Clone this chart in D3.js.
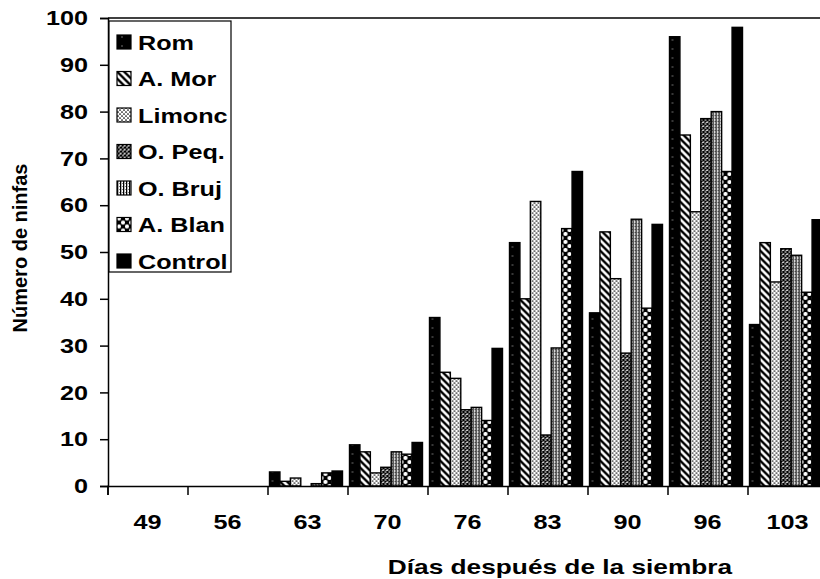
<!DOCTYPE html>
<html lang="es">
<head>
<meta charset="utf-8">
<title>Número de ninfas</title>
<script src="https://d3js.org/d3.v7.min.js"></script>
<style>
  body{margin:0;background:#fff;}
  svg text{font-family:"Liberation Sans",Arial,sans-serif;font-weight:bold;fill:#000;}
</style>
</head>
<body>
<div id="chart"></div>
<script>
// data
var dias = ["49","56","63","70","76","83","90","96","103"]
var series = ["Rom","A. Mor","Limonc","O. Peq.","O. Bruj","A. Blan","Control"]
var rom     = [0,0,3.0,8.8,36.0,52.0,37.0,96.0,34.5]
var aMor    = [0,0,1.0,7.3,24.3,40.0,54.3,75.0,52.0]
var limonc  = [0,0,1.7,2.8,23.0,60.8,44.3,58.6,43.6]
var oPeq    = [0,0,0.0,4.0,16.3,10.9,28.4,78.5,50.7]
var oBruj   = [0,0,0.5,7.3,16.8,29.5,57.0,80.0,49.3]
var aBlan   = [0,0,2.8,6.8,14.0,55.0,38.0,67.2,41.4]
var control = [0,0,3.2,9.3,29.4,67.2,55.9,98.0,56.9]
var yTicks = [0,10,20,30,40,50,60,70,80,90,100]

var values = [rom,aMor,limonc,oPeq,oBruj,aBlan,control]
var fills = ["url(#pRom)","url(#pMor)","url(#pLim)","url(#pPeq)","url(#pBru)","url(#pBla)","#000"]

var W = 820, H = 579
var stretch = 1.2   // the scanned text is wider than plain Arial

var svg = d3.select("#chart").append("svg")
    .attr("width",W).attr("height",H)

// fill patterns
var defs = svg.append("defs")
var p = defs.append("pattern").attr("id","pRom").attr("patternUnits","userSpaceOnUse").attr("width",10).attr("height",9)
p.append("rect").attr("width",10).attr("height",9).attr("fill","#000")
p.append("circle").attr("cx",5).attr("cy",4).attr("r",0.7).attr("fill","#999")

p = defs.append("pattern").attr("id","pMor").attr("patternUnits","userSpaceOnUse").attr("width",7).attr("height",7)
p.append("rect").attr("width",7).attr("height",7).attr("fill","#fff")
p.append("path").attr("d","M-1,-1L8,8M-4,3L1,8M3,-4L8,1").attr("stroke","#000").attr("stroke-width",2.4)

p = defs.append("pattern").attr("id","pLim").attr("patternUnits","userSpaceOnUse").attr("width",4).attr("height",4)
p.append("rect").attr("width",4).attr("height",4).attr("fill","#fff")
p.append("circle").attr("cx",1).attr("cy",1).attr("r",0.85).attr("fill","#000")
p.append("circle").attr("cx",3).attr("cy",3).attr("r",0.85).attr("fill","#000")

p = defs.append("pattern").attr("id","pPeq").attr("patternUnits","userSpaceOnUse").attr("width",4).attr("height",4)
p.append("rect").attr("width",4).attr("height",4).attr("fill","#fff")
p.append("path").attr("d","M0,0L4,4M4,0L0,4").attr("stroke","#000").attr("stroke-width",1.4)

p = defs.append("pattern").attr("id","pBru").attr("patternUnits","userSpaceOnUse").attr("width",3).attr("height",3)
p.append("rect").attr("width",3).attr("height",3).attr("fill","#fff")
p.append("rect").attr("x",0).attr("width",1.3).attr("height",3).attr("fill","#000")
p.append("rect").attr("x",2).attr("y",1).attr("width",0.8).attr("height",0.8).attr("fill","#444")

p = defs.append("pattern").attr("id","pBla").attr("patternUnits","userSpaceOnUse").attr("width",8).attr("height",8)
p.append("rect").attr("width",8).attr("height",8).attr("fill","#000")
p.append("circle").attr("cx",2).attr("cy",2).attr("r",2.1).attr("fill","#fff")
p.append("circle").attr("cx",6).attr("cy",6).attr("r",2.1).attr("fill","#fff")

// scales
var x0 = 107.5
var xScale = d3.scaleBand().domain(dias).range([x0, x0 + 80*dias.length]).padding(0)
var xInner = d3.scaleBand().domain(series).range([2,75]).padding(0)
var yScale = d3.scaleLinear().domain([0,100]).range([486,18])
var xEdge = d3.scaleLinear().domain([0,dias.length]).range(xScale.range())

// bars
var groups = svg.selectAll(".grp")
    .data(dias)
    .enter()
    .append("g")
    .attr("class","grp")
    .attr("transform",function(d){ return "translate("+xScale(d)+",0)" })

groups.selectAll("rect")
    .data(function(d,i){
        return series.map(function(s,j){ return {s:s, j:j, v:values[j][i]} })
    })
    .enter()
    .append("rect")
    .attr("x",function(d){ return xInner(d.s) })
    .attr("width",xInner.bandwidth())
    .attr("y",function(d){ return yScale(d.v) })
    .attr("height",function(d){ return yScale(0)-yScale(d.v) })
    .attr("fill",function(d){ return fills[d.j] })
    .attr("stroke","#000")
    .attr("stroke-width",1.4)

// frame top line
svg.append("line")
    .attr("x1",108).attr("x2",W)
    .attr("y1",yScale(100)).attr("y2",yScale(100))
    .attr("stroke","#000").attr("stroke-width",1.5)

// y axis
var yAxis = d3.axisLeft(yScale).tickValues(yTicks).tickSize(8).tickFormat(d3.format("d"))
var gy = svg.append("g")
    .attr("transform","translate(108,0)")
    .call(yAxis)
gy.select(".domain").attr("stroke-width",1.5)
gy.selectAll(".tick line").attr("stroke-width",1.5)
gy.selectAll("text")
    .attr("font-size",21)
    .attr("x",-20/stretch)
    .attr("transform","scale("+stretch+",1)")

// x axis: boundary ticks + centred labels
var gx = svg.append("g")
    .attr("transform","translate(0,"+yScale(0)+")")
    .call(d3.axisBottom(xEdge).tickValues(d3.range(0,dias.length+1)).tickSize(9).tickFormat(""))
gx.select(".domain").attr("stroke-width",1.5)
gx.selectAll(".tick line").attr("stroke-width",1.5)

var gl = svg.append("g")
    .attr("transform","translate(0,"+yScale(0)+")")
    .call(d3.axisBottom(xScale).tickSize(0).tickPadding(28))
gl.select(".domain").remove()
gl.selectAll("text")
    .attr("font-size",21)
    .attr("transform","scale("+stretch+",1)")

// axis titles
svg.append("text")
    .attr("transform","translate(560,574) scale(1.25,1)")
    .attr("text-anchor","middle")
    .attr("font-size",21)
    .text("Días después de la siembra")

svg.append("text")
    .attr("transform","translate(27,248) rotate(-90)")
    .attr("text-anchor","middle")
    .attr("font-size",20)
    .text("Número de ninfas")

// legend
var leg = svg.append("g")
leg.append("rect")
    .attr("x",109).attr("y",21).attr("width",122).attr("height",251)
    .attr("fill","#fff").attr("stroke","#000").attr("stroke-width",1.2)

var items = leg.selectAll(".item")
    .data(series)
    .enter()
    .append("g")
    .attr("class","item")
    .attr("transform",function(d,i){ return "translate(117,"+(42+i*36.5)+")" })

items.append("rect")
    .attr("x",0).attr("y",-7).attr("width",14).attr("height",14)
    .attr("fill",function(d,i){ return fills[i] })
    .attr("stroke","#000").attr("stroke-width",1.2)

items.append("text")
    .attr("transform","translate(21,7.5) scale("+stretch+",1)")
    .attr("font-size",21)
    .text(function(d){ return d })
</script>
</body>
</html>
